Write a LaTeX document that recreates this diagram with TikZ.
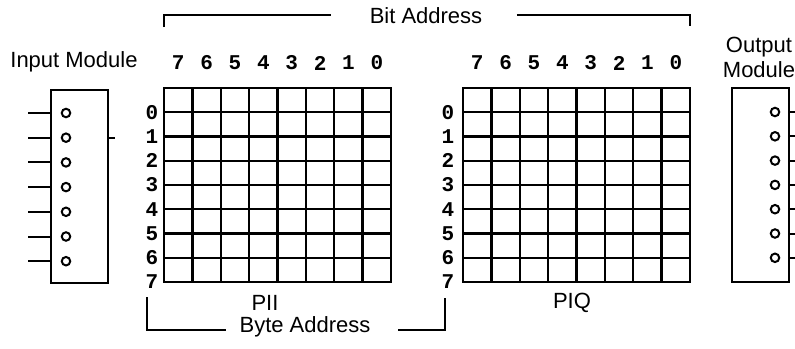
\documentclass[tikz,border=0pt]{standalone}
\usepackage{fontspec}
\setmainfont{Liberation Sans}
\newfontfamily\cyfry{Liberation Mono}

\tikzset{
	etykieta/.style={font=\fontsize{22}{25}\selectfont, inner sep=0.5pt},
	cyfra/.style={font=\cyfry\bfseries\fontsize{21}{22}\selectfont, inner sep=0pt},
	kratka/.style={line width=2.4pt, line cap=rect},
	ramka/.style={draw, line width=2.4pt, inner sep=0pt},
	klamra/.style={line width=2pt},
	zacisk/.style={circle, draw, line width=2pt, inner sep=0pt, minimum size=8.5pt}
}

\begin{document}
\begin{tikzpicture}[x=1pt,y=-1pt]
					
					\useasboundingbox (0,0) rectangle (795,348);
					
					% Moduł wejściowy
					\node[etykieta] (we) at (74,62) {Input Module};
					\node[
					ramka,
					minimum width=57pt,
					minimum height=193pt
					] (modwe) at (79.5,186.5) {};
					
					\foreach \i in {0,...,6}{
						\node[zacisk] (we\i) at (66,{113+24.7*\i}) {};
						\coordinate (wel\i) at (28,{113+24.7*\i});
						\draw[klamra] (wel\i) -- (modwe.west |- we\i);
					}
					\draw[klamra] (modwe.east |- we1) -- ++(6,0);
					
					% Siatki PII i PIQ
					\foreach \gx/\lx/\n in {164/152/pii,463/448/piq}{
						\foreach \k in {0,...,8}
						\draw[kratka] ({\gx+28.375*\k},88) -- ({\gx+28.375*\k},282);
						\foreach \j in {0,...,8}
						\draw[kratka] (\gx,{88+24.25*\j}) -- ({\gx+227},{88+24.25*\j});
						% Adresy bitów
						\foreach \k in {0,...,7}{
							\pgfmathtruncatemacro\bit{7-\k}
							\node[cyfra] (\n-bit\bit) at ({\gx+28.375*(\k+0.5)},63) {\bit};
						}
						% Adresy bajtów
						\foreach \j in {0,...,7}
						\node[cyfra] (\n-bajt\j) at (\lx,{88+24.25*(\j+1)}) {\j};
					}
					
					\node[etykieta] (pii) at (265,303) {PII};
					\node[etykieta] (piq) at (572,303) {PIQ};
					
					% Bit Address
					\node[etykieta] (bit) at (426,16) {Bit Address};
					\coordinate (bitl) at (164,27);
					\coordinate (bitp) at (690,26);
					\draw[klamra] (bitl) |- ([xshift=-38pt,yshift=1pt]bit.west);
					\draw[klamra] ([xshift=34pt,yshift=1pt]bit.east) -| (bitp);
					
					% Byte Address
					\node[etykieta] (bajt) at (305,327) {Byte Address};
					\coordinate (bajtl) at (147,297);
					\coordinate (bajtp) at (445,298);
					\draw[klamra] (bajtl) |- ([xshift=-13pt,yshift=-3pt]bajt.west);
					\draw[klamra] ([xshift=27pt,yshift=-3pt]bajt.east) -| (bajtp);
					
					% Moduł wyjściowy
					\node[etykieta, align=center] (wy) at (759,57) {Output\\Module};
					\node[
					ramka,
					minimum width=57pt,
					minimum height=194pt
					] (modwy) at (760.5,185) {};
					
					\foreach \i in {0,...,6}{
						\node[zacisk] (wy\i) at (775,{112+24.3*\i}) {};
						\coordinate (wyp\i) at (795,{112+24.3*\i});
						\draw[klamra] (modwy.east |- wy\i) -- (wyp\i);
					}
					
				\end{tikzpicture}
\end{document}
